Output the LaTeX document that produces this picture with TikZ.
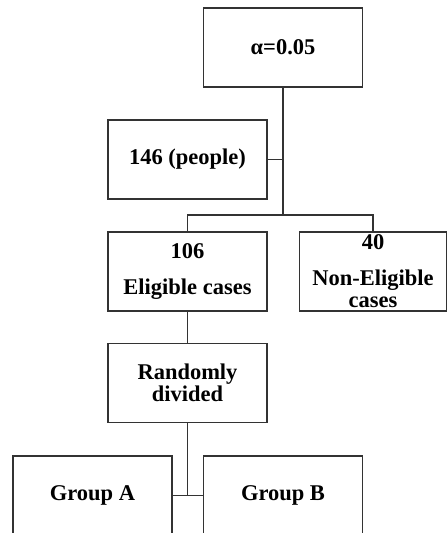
\documentclass[tikz,border=0pt]{standalone}
\usepackage{fontspec}
\setmainfont{Liberation Serif}

\begin{document}
\begin{tikzpicture}[
  box/.style={draw=black!80, line width=0.75pt, minimum width=3.18cm,
    minimum height=1.58cm, inner sep=0pt, align=center,
    font=\fontsize{12.8}{12.5}\selectfont\bfseries},
  line/.style={draw=black!80, line width=0.75pt}
]

% Rahmen
\begin{scope}[x=0.02cm, y=-0.02cm]
  \useasboundingbox (0,0) rectangle (447,533);
  \clip (0,0) rectangle (447,533);

  % Kaesten
  \node[box] (alpha) at (283,47.5) {α=0.05};
  \node[box] (people) at (187.5,159.5) {146 (people)};
  \node[box] (elig) at (187.5,271.5) {106\\[8pt]Eligible cases};
  \node[box, minimum width=2.94cm] (nonel) at (373,271.5) {40\\[8pt]Non-Eligible\\cases};
  \node[box] (rand) at (187.5,383) {Randomly\\divided};
  \node[box] (grpA) at (92.5,495.5) {Group A};
  \node[box] (grpB) at (283,495.5) {Group B};

  \coordinate (bar) at (283,215);

  % Verbindungen
  \draw[line] (alpha) -- (bar);
  \draw[line] (people.east) -- (people.east -| alpha);
  \draw[line] (elig.north) |- (bar) -| (nonel.north);
  \draw[line] (elig) -- (rand);
  \draw[line] (rand.south) -- (rand.south |- grpA.east);
  \draw[line] (grpA.east) -- (grpB.west);
\end{scope}
\end{tikzpicture}
\end{document}
